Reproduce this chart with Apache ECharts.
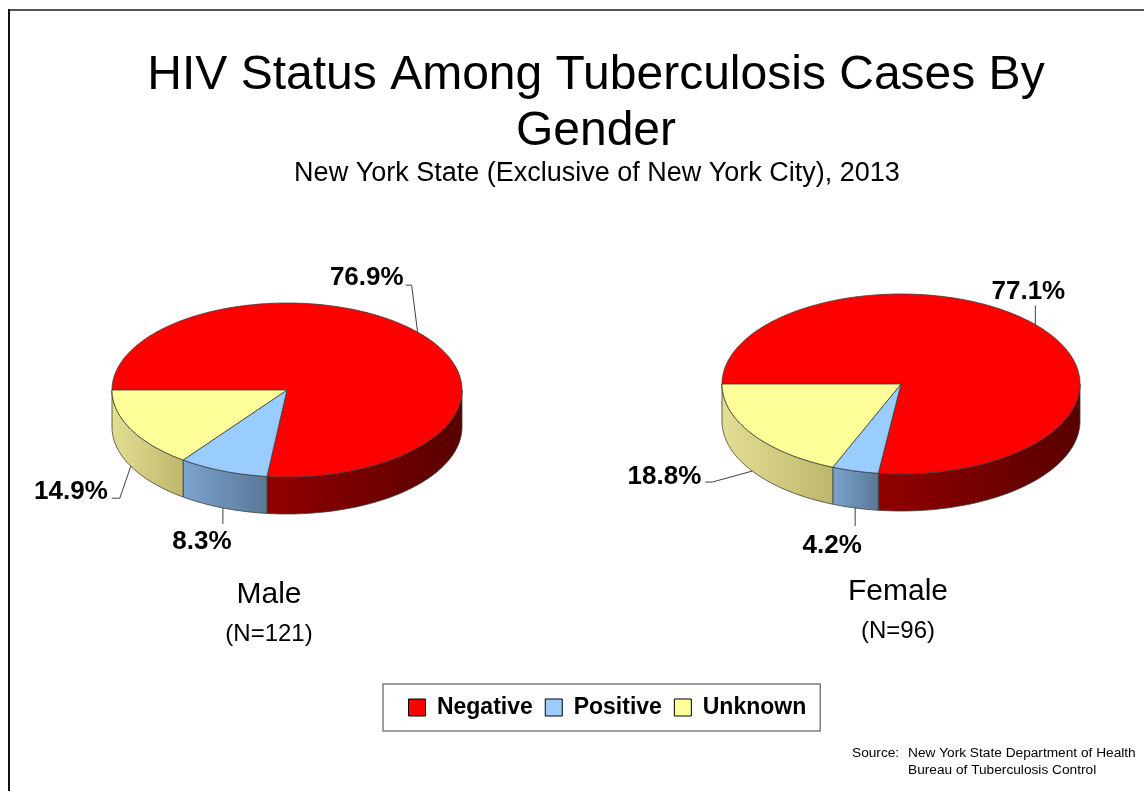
<!DOCTYPE html>
<html>
<head>
<meta charset="utf-8">
<title>HIV Status Among Tuberculosis Cases By Gender</title>
<script src="https://cdn.jsdelivr.net/npm/echarts@6/dist/echarts.min.js"></script>
<style>
  html, body { margin: 0; padding: 0; background: #fff; }
  #chart { width: 1144px; height: 791px; }
</style>
</head>
<body>
<div id="chart"></div>
<script>
'use strict';

// data (percent of cases)
var genders = ['Male', 'Female'];
var genderCounts = [121, 96];
var statusNames = ['Negative', 'Positive', 'Unknown'];
var negativePct = [76.9, 77.1];
var positivePct = [8.3, 4.2];
var unknownPct = [14.9, 18.8];

var statusValues = [negativePct, positivePct, unknownPct];

// look
var FONT = '"Liberation Sans", Arial, Helvetica, sans-serif';
var topColors = ['#ff0000', '#99ccff', '#ffff99'];
var sideColors = [
    ['#920000', '#580000'],
    ['#7ca4cf', '#587896'],
    ['#e3df92', '#bdb76c']
];

// pie geometry (ellipse, pixels)
var pies = [
    { cx: 287, cy: 390, rx: 175, ry: 87, depth: 37 },
    { cx: 901, cy: 384, rx: 179, ry: 90, depth: 37 }
];

// leader line / label placement relative to slice anchor: [gender][status]
var labelLayout = [
    [
        { path: [[-6, -47], [-12, -47]], text: [-14, -54], align: 'right' },
        { path: [[0, 16]], text: [-21, 34], align: 'center' },
        { path: [[-11, 32], [-19, 32]], text: [-23, 26], align: 'right' }
    ],
    [
        { path: [[0, -19]], text: [-7, -33], align: 'center' },
        { path: [[0, 18]], text: [-23, 38], align: 'center' },
        { path: [[-40, 11], [-47, 11]], text: [-51, 6], align: 'right' }
    ]
];

function arcPoints(pie, a, b, dy) {
    var pts = [];
    var n = Math.max(2, Math.ceil(Math.abs(b - a) / (Math.PI / 180)));
    for (var i = 0; i <= n; i++) {
        var t = a + (b - a) * i / n;
        pts.push([pie.cx + pie.rx * Math.cos(t), pie.cy + pie.ry * Math.sin(t) + dy]);
    }
    return pts;
}

function sliceRenderer(s) {
    return function(params, api) {
        var g = params.dataIndex;
        var pie = pies[g];
        var total = 0, before = 0;
        for (var i = 0; i < statusValues.length; i++) {
            total += statusValues[i][g];
            if (i < s) {
                before += statusValues[i][g];
            }
        }
        var value = api.value(0);
        var a1 = Math.PI + before / total * Math.PI * 2;
        var a2 = a1 + value / total * Math.PI * 2;
        var children = [];
        var stroke = { stroke: '#3c3c3c', lineWidth: 0.8 };

        // visible side wall (front half of the ellipse)
        for (var k = -1; k <= 2; k++) {
            var lo = Math.max(a1, k * Math.PI * 2);
            var hi = Math.min(a2, k * Math.PI * 2 + Math.PI);
            if (hi - lo > 1e-4) {
                var pts = arcPoints(pie, lo, hi, 0).concat(arcPoints(pie, hi, lo, pie.depth));
                children.push({
                    type: 'polygon',
                    shape: { points: pts },
                    style: {
                        fill: new echarts.graphic.LinearGradient(0, 0, 1, 0, [
                            { offset: 0, color: sideColors[s][0] },
                            { offset: 1, color: sideColors[s][1] }
                        ]),
                        stroke: stroke.stroke,
                        lineWidth: stroke.lineWidth
                    }
                });
            }
        }

        // top face
        children.push({
            type: 'polygon',
            shape: { points: [[pie.cx, pie.cy]].concat(arcPoints(pie, a1, a2, 0)) },
            style: { fill: topColors[s], stroke: stroke.stroke, lineWidth: stroke.lineWidth }
        });

        // leader line and label
        var mid = (a1 + a2) / 2;
        var m = ((mid % (Math.PI * 2)) + Math.PI * 2) % (Math.PI * 2);
        var front = m > 0 && m < Math.PI;
        var ax = pie.cx + pie.rx * Math.cos(mid);
        var ay = pie.cy + pie.ry * Math.sin(mid) + (front ? pie.depth : 0);
        var lay = labelLayout[g][s];
        var line = [[ax, ay]];
        lay.path.forEach(function(p) {
            line.push([ax + p[0], ay + p[1]]);
        });
        children.push({
            type: 'polyline',
            shape: { points: line },
            style: { stroke: '#404040', lineWidth: 1, fill: null }
        });
        children.push({
            type: 'text',
            x: ax + lay.text[0],
            y: ay + lay.text[1],
            style: {
                text: value.toFixed(1) + '%',
                fill: '#000',
                font: 'bold 26px ' + FONT,
                align: lay.align,
                verticalAlign: 'middle'
            }
        });

        return { type: 'group', children: children };
    };
}

var series = statusNames.map(function(name, s) {
    return {
        type: 'custom',
        name: name,
        coordinateSystem: 'none',
        animation: false,
        silent: true,
        itemStyle: { color: topColors[s] },
        data: statusValues[s].map(function(v) { return [v]; }),
        renderItem: sliceRenderer(s)
    };
});

function text(x, y, str, font, align) {
    return {
        type: 'text',
        x: x,
        y: y,
        silent: true,
        style: {
            text: str,
            fill: '#000',
            font: font,
            align: align || 'center',
            verticalAlign: 'middle'
        }
    };
}

var graphics = [
    // frame
    { type: 'line', silent: true, shape: { x1: 8, y1: 10, x2: 1144, y2: 10 }, style: { stroke: '#555', lineWidth: 2 } },
    { type: 'line', silent: true, shape: { x1: 9, y1: 9, x2: 9, y2: 791 }, style: { stroke: '#111', lineWidth: 2 } },
    text(596, 76, 'HIV Status Among Tuberculosis Cases By', '48px ' + FONT),
    text(596, 132, 'Gender', '48px ' + FONT),
    text(597, 174, 'New York State (Exclusive of New York City), 2013', '27px ' + FONT),
    text(852, 753, 'Source:', '13.7px ' + FONT, 'left'),
    text(908, 753, 'New York State Department of Health', '13.7px ' + FONT, 'left'),
    text(908, 770, 'Bureau of Tuberculosis Control', '13.7px ' + FONT, 'left')
];
var captionX = [269, 898];
var captionY = [595, 592];
var countY = [634, 631];
genders.forEach(function(name, g) {
    graphics.push(text(captionX[g], captionY[g], name, '30px ' + FONT));
    graphics.push(text(captionX[g], countY[g], '(N=' + genderCounts[g] + ')', '24px ' + FONT));
});

var chart = echarts.init(document.getElementById('chart'), null, { renderer: 'canvas' });
chart.setOption({
    backgroundColor: '#ffffff',
    animation: false,
    legend: {
        left: 383,
        top: 684,
        orient: 'horizontal',
        padding: [12, 14, 12, 25],
        itemGap: 12,
        itemWidth: 17,
        itemHeight: 17,
        icon: 'rect',
        borderColor: '#7f7f7f',
        borderWidth: 1.5,
        backgroundColor: '#fff',
        selectedMode: false,
        formatter: function(name) {
            return ' ' + name;
        },
        textStyle: { color: '#000', fontFamily: FONT, fontWeight: 'bold', fontSize: 23 },
        data: statusNames.map(function(name, s) {
            return { name: name, itemStyle: { color: topColors[s], borderColor: '#000', borderWidth: 1 } };
        })
    },
    graphic: graphics,
    series: series
});
</script>
</body>
</html>
